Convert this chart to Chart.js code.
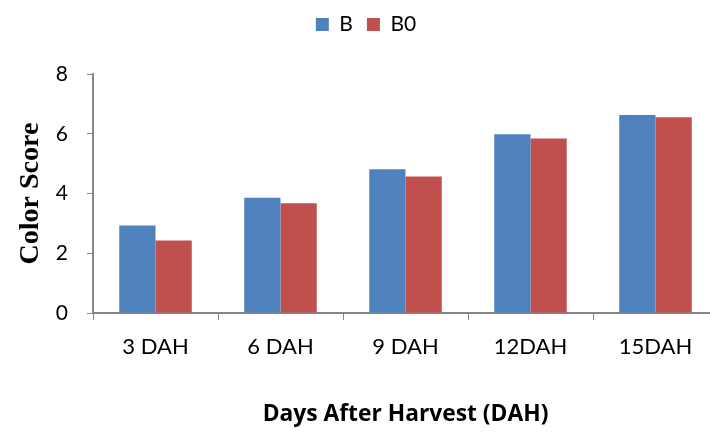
<!DOCTYPE html>
<html>
<head>
<meta charset="utf-8">
<script src="https://cdn.jsdelivr.net/npm/chart.js@4"></script>
<style>
  html, body { margin: 0; padding: 0; overflow: hidden; background: #fff; }
  #wrap { width: 718px; height: 432px; }
</style>
</head>
<body>
<div id="wrap"><canvas id="colorChart"></canvas></div>
<script>
const categories = ['3 DAH', '6 DAH', '9 DAH', '12DAH', '15DAH'];
const bValues = [2.93, 3.86, 4.81, 5.98, 6.63];
const b0Values = [2.43, 3.67, 4.57, 5.84, 6.55];
const yTicks = [0, 2, 4, 6, 8];

const axisColor = '#868686';
const sans = 'Lato, "Open Sans", sans-serif';

// extra room under the legend so the plot starts lower
const legendSpacer = {
    id: 'legendSpacer',
    beforeInit(chart) {
        const fit = chart.legend.fit;
        chart.legend.fit = function() {
            fit.bind(chart.legend)();
            this.height += 29;
        };
    }
};

const ctx = document.getElementById('colorChart').getContext('2d');
new Chart(ctx, {
    type: 'bar',
    data: {
        labels: categories,
        datasets: [{
            label: 'B',
            data: bValues,
            backgroundColor: '#4F81BD',
            borderWidth: 0
        }, {
            label: 'B0',
            data: b0Values,
            backgroundColor: '#C0504D',
            borderWidth: 0
        }]
    },
    options: {
        responsive: true,
        maintainAspectRatio: false,
        animation: false,
        layout: { padding: { top: 0, left: 14, right: 0, bottom: 4 } },
        datasets: { bar: { categoryPercentage: 0.58, barPercentage: 1.0 } },
        plugins: {
            legend: {
                position: 'top',
                labels: {
                    boxWidth: 13,
                    boxHeight: 13,
                    padding: 14,
                    color: '#000',
                    font: { family: sans, size: 21 }
                }
            },
            tooltip: { enabled: false }
        },
        scales: {
            x: {
                offset: true,
                grid: {
                    display: true,
                    drawOnChartArea: false,
                    drawTicks: true,
                    tickLength: 7,
                    color: axisColor,
                    offset: true
                },
                border: { display: true, color: axisColor, width: 2 },
                ticks: { color: '#000', font: { family: sans, size: 22 }, padding: 14 },
                title: {
                    display: true,
                    text: 'Days After Harvest (DAH)',
                    color: '#000',
                    font: { family: '"Open Sans", sans-serif', size: 22.8, weight: 'bold' },
                    padding: { top: 26, bottom: 0 }
                },
                afterFit: function(scale) { scale.height = 115; }
            },
            y: {
                min: 0,
                max: 8,
                afterBuildTicks: function(scale) {
                    scale.ticks = yTicks.map(v => ({ value: v }));
                },
                grid: {
                    display: true,
                    drawOnChartArea: false,
                    drawTicks: true,
                    tickLength: 6,
                    color: axisColor
                },
                border: { display: true, color: axisColor, width: 2 },
                ticks: { color: '#000', font: { family: sans, size: 21 }, padding: 19 },
                title: {
                    display: true,
                    text: 'Color Score',
                    color: '#000',
                    font: { family: '"Liberation Serif", "Times New Roman", serif', size: 28, weight: 'bold' },
                    padding: { top: 0, bottom: 10 }
                },
                afterFit: function(scale) { scale.width = 79; }
            }
        }
    },
    plugins: [legendSpacer]
});
</script>
</body>
</html>
